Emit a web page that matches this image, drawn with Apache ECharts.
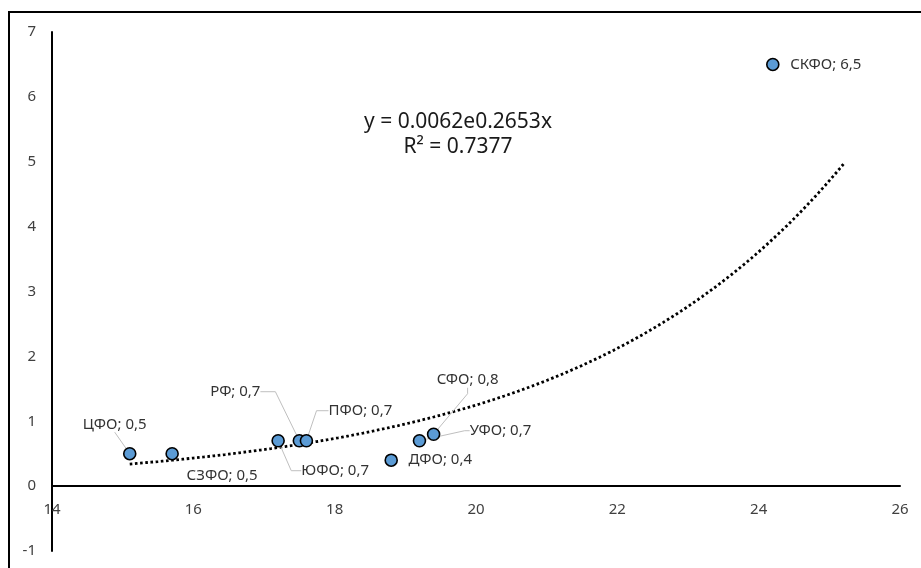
<!DOCTYPE html>
<html>
<head>
<meta charset="utf-8">
<script src="https://cdn.jsdelivr.net/npm/echarts@6/dist/echarts.min.js"></script>
<style>
  html, body { margin: 0; padding: 0; background: #fff; }
  #chart { width: 921px; height: 568px; }
</style>
</head>
<body>
<div id="chart"></div>
<script>
// ---- data ----
const regions = ['ЦФО', 'СЗФО', 'ЮФО', 'РФ', 'ПФО', 'ДФО', 'УФО', 'СФО', 'СКФО'];
const xValues = [15.1, 15.7, 17.2, 17.5, 17.6, 18.8, 19.2, 19.4, 24.2];
const yValues = [0.5, 0.5, 0.7, 0.7, 0.7, 0.4, 0.7, 0.8, 6.5];

// exponential trendline shown on the chart: y = a * e^(b x)
const trendA = 0.0062;
const trendB = 0.2653;
const trendR2 = 0.7377;
const trendFrom = 15.1;
const trendTo = 25.2;

const xTicks = { min: 14, max: 26, interval: 2 };
const yTicks = { min: -1, max: 7, interval: 1 };

// ---- layout ----
const gridBox = { left: 52, right: 21, top: 32, bottom: 17 };
const chartH = 568;
const plotH = chartH - gridBox.top - gridBox.bottom;
// x axis crosses at y = 0: shift it up from the grid bottom by the pixel height of (0 - yMin)
const xAxisOffset = -plotH * (0 - yTicks.min) / (yTicks.max - yTicks.min);

// label placement (offsets from marker centre)
const labelOffsets = [
  [-15, -29], [50, 22], [57, 30], [-64, -49], [54, -30],
  [49, 0], [81, -10], [34, -54], [53, 0]
];
const leaderLen = [0, null, 10, 15, 12, null, 5, 6, null];

const font = '"Noto Sans", "Open Sans", sans-serif';

const points = regions.map((n, i) => ({
  name: n,
  value: [xValues[i], yValues[i]],
  labelLine: leaderLen[i] === null
    ? { show: false }
    : { show: true, length2: leaderLen[i], lineStyle: { color: '#BFBFBF', width: 1 } }
}));

const trend = [];
for (let k = 0; ; k++) {
  const x = +(trendFrom + k * 0.05).toFixed(3);
  if (x > trendTo + 1e-9) break;
  trend.push([x, trendA * Math.exp(trendB * x)]);
}

const chart = echarts.init(document.getElementById('chart'), null, { renderer: 'canvas' });
chart.setOption({
  animation: false,
  backgroundColor: '#fff',
  grid: Object.assign({ containLabel: false, outerBoundsMode: 'none' }, gridBox),
  xAxis: {
    type: 'value', min: xTicks.min, max: xTicks.max, interval: xTicks.interval,
    position: 'bottom', offset: xAxisOffset,
    axisLine: { onZero: false, lineStyle: { color: '#000', width: 2 } },
    axisTick: { show: false },
    splitLine: { show: false },
    axisLabel: { color: '#404040', fontSize: 15, fontFamily: font, margin: 16, showMinLabel: true, showMaxLabel: true }
  },
  yAxis: {
    type: 'value', min: yTicks.min, max: yTicks.max, interval: yTicks.interval,
    axisLine: { show: true, onZero: false, lineStyle: { color: '#000', width: 2 } },
    axisTick: { show: false },
    splitLine: { show: false },
    axisLabel: { color: '#404040', fontSize: 15, fontFamily: font, margin: 16, showMinLabel: true, showMaxLabel: true }
  },
  graphic: [
    { type: 'rect', silent: true, z: 100,
      shape: { x: 9, y: 12, width: 1200, height: 1200 },
      style: { fill: 'none', stroke: '#000', lineWidth: 2 } },
    { type: 'text', x: 458, y: 122, z: 100,
      style: { text: 'y = ' + trendA + 'e' + trendB + 'x', textAlign: 'center', textVerticalAlign: 'middle',
               fill: '#1a1a1a', font: '21px ' + font } },
    { type: 'text', x: 458, y: 147, z: 100,
      style: { text: 'R² = ' + trendR2, textAlign: 'center', textVerticalAlign: 'middle',
               fill: '#1a1a1a', font: '21px ' + font } }
  ],
  series: [
    {
      type: 'line', data: trend, showSymbol: false, smooth: false, z: 1,
      lineStyle: { color: '#000', width: 2.8, type: [2.6, 2.6] },
      silent: true
    },
    {
      type: 'scatter', data: points, z: 3,
      symbol: 'circle', symbolSize: 12,
      itemStyle: { color: '#5B9BD5', borderColor: '#000', borderWidth: 1.6, opacity: 1 },
      label: {
        show: true, position: 'inside', color: '#333333', fontSize: 15, fontFamily: font,
        formatter: p => p.name + '; ' + String(p.value[1]).replace('.', ',')
      },
      labelLayout: p => ({ dx: labelOffsets[p.dataIndex][0], dy: labelOffsets[p.dataIndex][1] })
    }
  ]
});
</script>
</body>
</html>
